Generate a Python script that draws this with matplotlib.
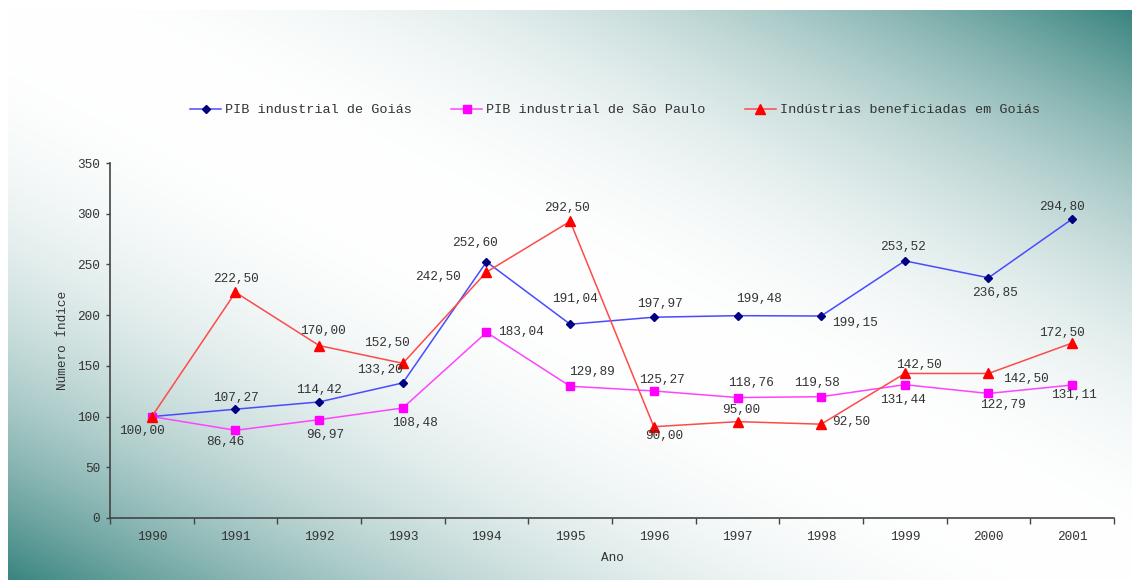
import numpy as np
import matplotlib
matplotlib.use("Agg")
import matplotlib.pyplot as plt

plt.rcParams['font.family'] = ['Liberation Mono', 'DejaVu Sans Mono']

# data
anos = ['1990', '1991', '1992', '1993', '1994', '1995',
        '1996', '1997', '1998', '1999', '2000', '2001']
pib_goias = [100.00, 107.27, 114.42, 133.20, 252.60, 191.04,
             197.97, 199.48, 199.15, 253.52, 236.85, 294.80]
pib_sp = [100.00, 86.46, 96.97, 108.48, 183.04, 129.89,
          125.27, 118.76, 119.58, 131.44, 122.79, 131.11]
ind_goias = [100.00, 222.50, 170.00, 152.50, 242.50, 292.50,
             90.00, 95.00, 92.50, 142.50, 142.50, 172.50]

# label offsets in pixels (dx, dy up), None = no label
off_goias = [(-10, -14), (0, 11), (0, 12), (-23, 13), (-12, 19), (5, 25),
             (6, 13), (21, 17), (34, -7), (-2, 14), (6, -15), (-10, 12)]
off_sp = [None, (-10, -12), (6, -15), (12, -15), (34, 0), (22, 14),
          (8, 11), (13, 15), (-4, 14), (-2, -15), (14, -12), (2, -10)]
off_ind = [None, (0, 13), (4, 15), (-16, 20), (-49, -5), (-3, 13),
           (10, -9), (4, 12), (30, 2), (14, 8), (37, -6), (-10, 10)]

W, H = 1132, 580
fig = plt.figure(figsize=(W / 100, H / 100), dpi=100)
fig.patch.set_facecolor('white')

# background gradient: white along main diagonal, teal in top-right / bottom-left
bg = fig.add_axes([8 / W, 0, 1 - 8 / W, (H - 10) / H], zorder=-10)
gx, gy = np.meshgrid(np.linspace(0, 1, 400), np.linspace(0, 1, 220))
u = np.abs(gx - gy)
t = u ** 2.2
teal = np.array([58, 133, 128]) / 255.0
img = (1 - t)[..., None] * np.ones(3) + t[..., None] * teal
bg.imshow(img, aspect='auto', extent=[0, 1, 0, 1], origin='upper')
bg.set_axis_off()

ax = fig.add_axes([110 / W, (H - 518) / H, 1004 / W, 355 / H])
ax.set_facecolor('none')

x = np.arange(len(anos))
txt_col = '#333333'
series = [
    (pib_goias, 'PIB industrial de Goiás', '#4a4aff', 'D', '#000080', 4.5, off_goias),
    (pib_sp, 'PIB industrial de São Paulo', '#ff44ff', 's', '#ff00ff', 5.5, off_sp),
    (ind_goias, 'Indústrias beneficiadas em Goiás', '#ff4a4a', '^', '#ff0000', 6.5, off_ind),
]
for vals, name, lc, mk, mc, ms, offs in series:
    ax.plot(x, vals, color=lc, lw=1.1, marker=mk, markersize=ms,
            markerfacecolor=mc, markeredgecolor=mc, label=name)
    for xi, v, o in zip(x, vals, offs):
        if o is None:
            continue
        ax.annotate(f'{v:.2f}'.replace('.', ','), (xi, v), xytext=o,
                    textcoords='offset pixels', ha='center', va='center',
                    fontsize=9.2, color=txt_col)

ax.set_xlim(-0.5, len(anos) - 0.5)
ax.set_ylim(0, 350)
ax.set_yticks(np.arange(0, 351, 50))
ax.set_xticks(np.arange(-0.5, len(anos), 1.0))
ax.set_xticklabels([])
ax.set_xticks(x, minor=True)
ax.set_xticklabels(anos, minor=True)
ax.tick_params(axis='x', which='major', length=4, width=1, color='#444444')
ax.tick_params(axis='x', which='minor', length=0, pad=9, labelsize=9.2, labelcolor=txt_col)
ax.tick_params(axis='y', length=3, width=1, color='#444444', pad=4,
               labelsize=9.2, labelcolor=txt_col)
for s in ['top', 'right']:
    ax.spines[s].set_visible(False)
for s in ['left', 'bottom']:
    ax.spines[s].set_color('#444444')
    ax.spines[s].set_linewidth(1.2)

ax.set_xlabel('Ano', fontsize=9.2, color=txt_col)
ax.xaxis.set_label_coords(0.5, -0.096)
ax.set_ylabel('Número Índice', fontsize=9.2, color=txt_col)
ax.yaxis.set_label_coords(-0.041, 0.5)

fig.legend(loc='center', bbox_to_anchor=(615 / W, 1 - 110 / H), ncol=3,
           frameon=False, fontsize=9.7, handlelength=2.3, handletextpad=0.3,
           columnspacing=2.9, labelcolor=txt_col)

fig.savefig('out.png', dpi=100)
